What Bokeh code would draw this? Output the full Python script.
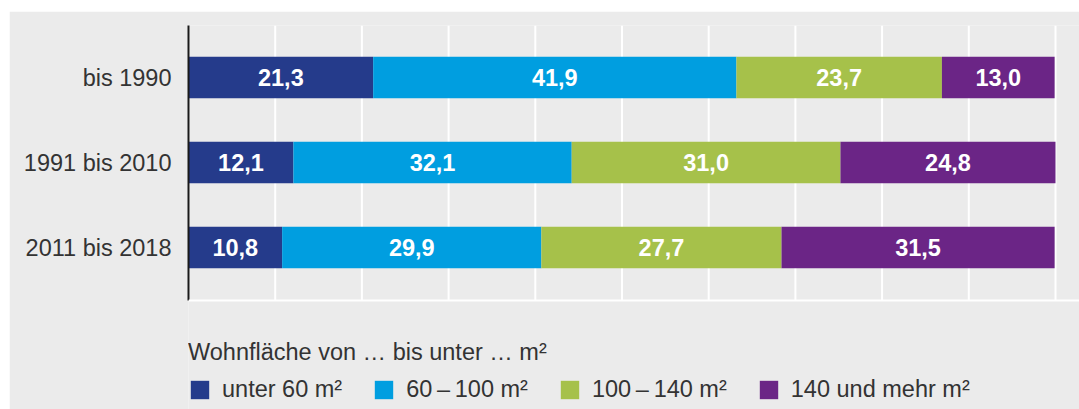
from bokeh.plotting import figure
from bokeh.models import (ColumnDataSource, Range1d, FixedTicker, Legend, LegendItem, Span)
from bokeh.layouts import column, row
from bokeh.models import Spacer
from bokeh.core.properties import value
from bokeh.embed import file_html
from bokeh.resources import INLINE

# ---- data ----
periods = ["bis 1990", "1991 bis 2010", "2011 bis 2018"]
unter_60 = [21.3, 12.1, 10.8]
m60_100 = [41.9, 32.1, 29.9]
m100_140 = [23.7, 31.0, 27.7]
m140_plus = [13.0, 24.8, 31.5]
series_keys = ["unter_60", "m60_100", "m100_140", "m140_plus"]
series_names = ["unter 60 m\u00b2", "60\u2009\u2013\u2009100 m\u00b2", "100\u2009\u2013\u2009140 m\u00b2", "140 und mehr m\u00b2"]
legend_title = "Wohnfl\u00e4che von \u2026 bis unter \u2026 m\u00b2"
x_ticks = [0, 10, 20, 30, 40, 50, 60, 70, 80, 90, 100]

colors = ["#253b8b", "#009ee0", "#a6c14a", "#6b2586"]
FONT = "Liberation Sans"
BG = "#ebebeb"

ypos = [2, 1, 0]
BAR_LO, BAR_HI = -0.624, 2.612   # extent of the bar area (axis line / grid lines)

data = dict(y=ypos, unter_60=unter_60, m60_100=m60_100, m100_140=m100_140, m140_plus=m140_plus)
source = ColumnDataSource(data)

p = figure(width=1070, height=398, output_backend="svg", toolbar_location=None,
           x_range=Range1d(0, 102.77), y_range=Range1d(-1.906, BAR_HI),
           min_border_left=179, min_border_right=0, min_border_top=14, min_border_bottom=0,
           background_fill_color=BG, border_fill_color=BG, outline_line_color=None)

# vertical white grid lines limited to the bar area
p.segment(x0=x_ticks, x1=x_ticks, y0=[BAR_LO] * len(x_ticks), y1=[BAR_HI] * len(x_ticks),
          line_color="white", line_width=2)
p.add_layout(Span(location=BAR_LO, dimension="width", line_color="white", line_width=2))

renderers = p.hbar_stack(series_keys, y="y", height=0.49, color=colors, line_color=None, source=source)

# value labels
lx, ly, lt = [], [], []
for i in range(len(periods)):
    vals = [unter_60[i], m60_100[i], m100_140[i], m140_plus[i]]
    left = 0.0
    for v in vals:
        lx.append(left + v / 2)
        ly.append(ypos[i])
        lt.append(f"{v:.1f}".replace(".", ","))
        left += v
lsrc = ColumnDataSource(dict(x=lx, y=ly, t=lt))
p.text(x="x", y="y", text="t", source=lsrc, text_color="white", text_font=value(FONT),
       text_font_size="23.5px", text_font_style="bold", text_align="center", text_baseline="middle")

p.xaxis.visible = False
p.xgrid.grid_line_color = None
p.ygrid.grid_line_color = None

p.yaxis.ticker = FixedTicker(ticks=ypos)
p.yaxis.bounds = (BAR_LO, BAR_HI)
p.yaxis.major_label_overrides = {y: lab for y, lab in zip(ypos, periods)}
p.yaxis.axis_line_color = "#1a1a1a"
p.yaxis.axis_line_width = 2
p.yaxis.major_tick_line_color = None
p.yaxis.minor_tick_line_color = None
p.yaxis.major_label_standoff = 11
p.yaxis.major_label_text_font = FONT
p.yaxis.major_label_text_font_size = "23.5px"
p.yaxis.major_label_text_color = "#333333"

items = [LegendItem(label=n, renderers=[r]) for n, r in zip(series_names, renderers)]
legend = Legend(items=items, orientation="horizontal", location=(0, 6),
                title=legend_title, title_text_font=FONT, title_text_font_size="23.5px",
                title_text_font_style="normal", title_text_color="#333333", title_standoff=10,
                label_text_font=FONT, label_text_font_size="23.5px", label_text_color="#333333",
                glyph_width=23, glyph_height=23, label_standoff=11, spacing=30,
                margin=0, padding=0, border_line_color=None, background_fill_alpha=0)
p.add_layout(legend, "center")

layout = column(Spacer(height=11, width=1079), row(Spacer(width=9, height=398), p))
open("out.html", "w").write(file_html(layout, INLINE))
